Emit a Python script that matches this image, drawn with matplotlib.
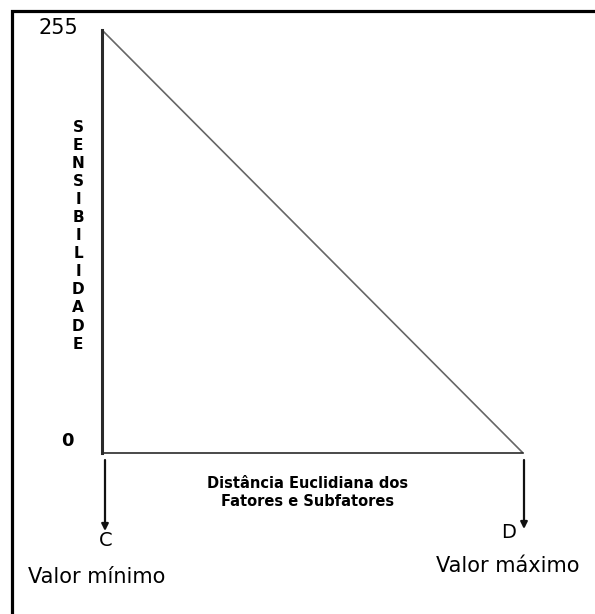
import matplotlib.pyplot as plt
from matplotlib.lines import Line2D

# ---- data ----
distance = [0.0, 1.0]          # C (min) -> D (max), normalised euclidean distance
sensitivity = [255, 0]
y_limits = [0, 255]
y_tick_labels = ["0", "255"]
axis_title_y = "SENSIBILIDADE"
axis_title_x = "Distância Euclidiana dos\nFatores e Subfatores"
point_labels = ["C", "D"]
point_names = ["Valor mínimo", "Valor máximo"]

W, H = 595, 614
fig = plt.figure(figsize=[W / 100, H / 100], dpi=100)
plt.rcParams['font.family'] = ['DejaVu Sans']


def fx(px):
    return px / W


def fy(py):
    return 1 - py / H


# outer frame (only top and left edges visible in the picture)
fig.add_artist(Line2D([fx(12), fx(12), fx(W + 5)], [fy(H + 5), fy(11), fy(11)],
                      lw=2.3, color='k', solid_joinstyle='miter',
                      transform=fig.transFigure))

ax = fig.add_axes([fx(102), fy(453), fx(523) - fx(102), fy(30) - fy(453)])
ax.plot(distance, sensitivity, c='#666666', lw=1.2, solid_capstyle='butt')
ax.set_xlim(distance[0], distance[-1])
ax.set_ylim(*y_limits)
ax.set_xticks([])
ax.set_yticks([])
ax.patch.set_alpha(0)
for s in ['top', 'right']:
    ax.spines[s].set_visible(False)
ax.spines['left'].set_linewidth(2.2)
ax.spines['left'].set_color('#2a2a2a')
ax.spines['bottom'].set_linewidth(1.2)
ax.spines['bottom'].set_color('#2a2a2a')

# value labels on the sensitivity axis
fig.text(fx(78), fy(28), y_tick_labels[1], ha='right', va='center', fontsize=15)
fig.text(fx(74), fy(441), y_tick_labels[0], ha='right', va='center', fontsize=13,
         fontweight='bold')

# vertical stacked axis title
for i, ch in enumerate(axis_title_y):
    fig.text(fx(78), fy(127 + i * 18.1), ch, ha='center', va='center',
             fontsize=11, fontweight='bold')

fig.text(fx(308), fy(492), axis_title_x, ha='center', va='center',
         fontsize=10.5, fontweight='bold', linespacing=1.25)

# arrows down to C and D
arrow_x = [105, 524]
arrow_end = [531, 529]
for xp, ye in zip(arrow_x, arrow_end):
    ax.annotate('', xy=(fx(xp), fy(ye)), xytext=(fx(xp), fy(460)),
                xycoords='figure fraction', textcoords='figure fraction',
                arrowprops=dict(arrowstyle='-|>', lw=1.6, color='#111111',
                                mutation_scale=10, shrinkA=0, shrinkB=0))

fig.text(fx(106), fy(540), point_labels[0], ha='center', va='center', fontsize=14)
fig.text(fx(509), fy(532), point_labels[1], ha='center', va='center', fontsize=14)
fig.text(fx(97), fy(577), point_names[0], ha='center', va='center', fontsize=15)
fig.text(fx(508), fy(566), point_names[1], ha='center', va='center', fontsize=15)

plt.savefig('out.png', dpi=100)
plt.close(fig)
